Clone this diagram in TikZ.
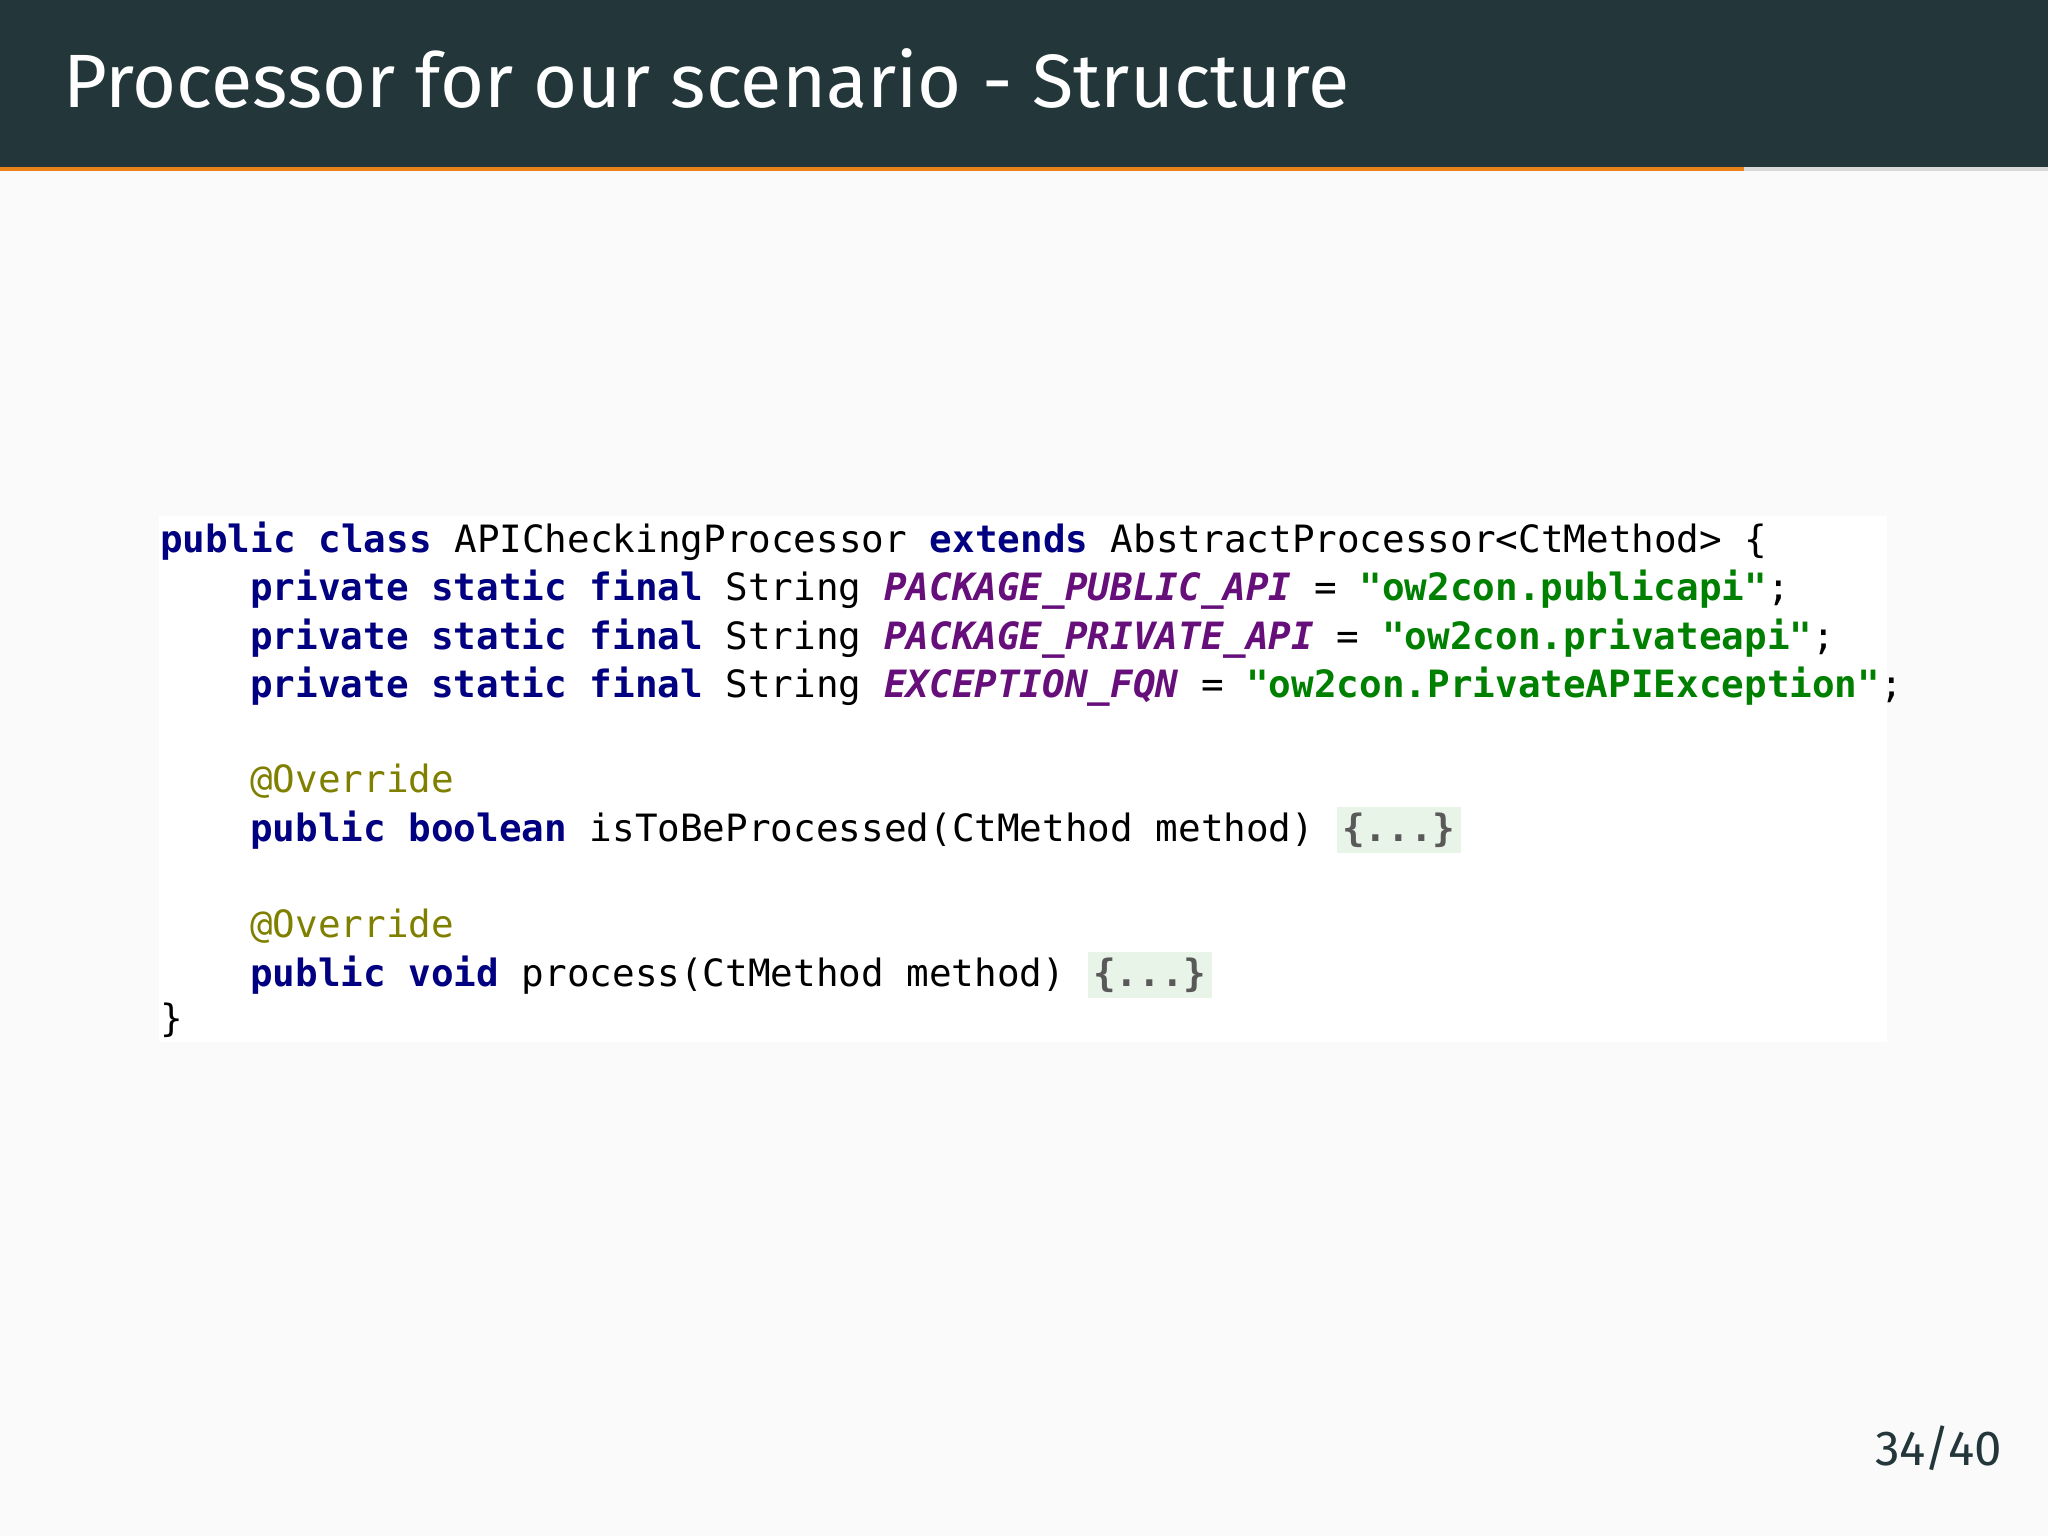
\documentclass[tikz,border=0pt]{standalone}
\usepackage{fontspec}
\setmainfont{Fira Sans}
\newfontfamily\codefont{DejaVu Sans Mono}
\definecolor{bar}{HTML}{23373B}
\definecolor{orng}{HTML}{EB811B}
\definecolor{pagebg}{HTML}{FAFAFA}
\definecolor{kwc}{HTML}{000080}
\definecolor{cnc}{HTML}{660E7A}
\definecolor{stc}{HTML}{008000}
\definecolor{anc}{HTML}{808000}
\definecolor{fold}{HTML}{E9F4E9}
\newcommand{\kw}[1]{{\bfseries\color{kwc}#1}}
\newcommand{\cn}[1]{{\bfseries\itshape\color{cnc}#1}}
\newcommand{\stv}[1]{{\bfseries\color{stc}#1}}
\newcommand{\fld}{{\setlength{\fboxsep}{1.5pt}\colorbox{fold}{\bfseries\color{black!65}\{...\}}}}
\begin{document}
\begin{tikzpicture}[x=0.01306cm,y=-0.01306cm,
  code/.style={anchor=base west,inner sep=0pt,font=\codefont\fontsize{10.7pt}{12pt}\selectfont}]
\useasboundingbox (0,0) rectangle (1568,1176);
\fill[pagebg] (0,0) rectangle (1568,1176);
\fill[bar] (0,0) rectangle (1568,128);
\fill[black!15] (0,128) rectangle (1568,131);
\fill[orng] (0,128) rectangle (1335,131);
\node[anchor=base west,inner sep=0pt,text=white,font=\fontsize{21.5pt}{24pt}\selectfont] (title) at (48,82) {Processor for our scenario - Structure};
\fill[white] (122,395) rectangle (1445,798);
\node[code] (l1) at (122,423) {\kw{public class} APICheckingProcessor \kw{extends} AbstractProcessor<CtMethod> \{};
\node[code] (l2) at (191,460) {\kw{private static final} String \cn{PACKAGE\_PUBLIC\_API} = \stv{"ow2con.publicapi"};};
\node[code] (l3) at (191,497) {\kw{private static final} String \cn{PACKAGE\_PRIVATE\_API} = \stv{"ow2con.privateapi"};};
\node[code] (l4) at (191,534) {\kw{private static final} String \cn{EXCEPTION\_FQN} = \stv{"ow2con.PrivateAPIException"};};
\node[code,text=anc] (l5) at (191,607) {@Override};
\node[code] (l6) at (191,644) {\kw{public boolean} isToBeProcessed(CtMethod method) \fld};
\node[code,text=anc] (l7) at (191,718) {@Override};
\node[code] (l8) at (191,755) {\kw{public void} process(CtMethod method) \fld};
\node[code] (l9) at (122,790) {\}};
\node[anchor=base east,inner sep=0pt,text=bar,font=\fontsize{14pt}{16pt}\selectfont] (pg) at (1533,1122) {34/40};
\end{tikzpicture}
\end{document}
